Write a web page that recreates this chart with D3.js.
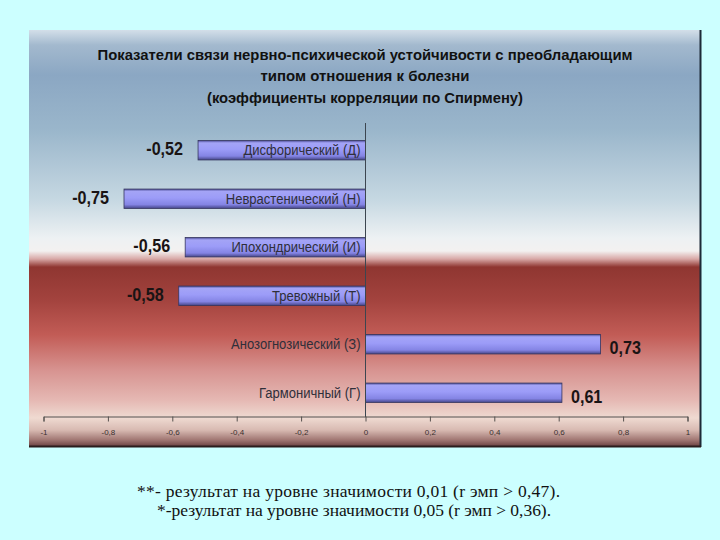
<!DOCTYPE html>
<html><head><meta charset="utf-8">
<script src="https://cdn.jsdelivr.net/npm/d3@7"></script>
<style>
html,body{margin:0;padding:0;background:#ccffff;}
svg{display:block;}
</style></head>
<body>
<svg id="c" width="720" height="540"></svg>
<script>
const titleLines = ["Показатели связи нервно-психической устойчивости с преобладающим",
  "типом отношения к болезни", "(коэффициенты корреляции по Спирмену)"];
const categories = ["Дисфорический (Д)", "Неврастенический (Н)", "Ипохондрический (И)",
  "Тревожный (Т)", "Анозогнозический (З)", "Гармоничный (Г)"];
const values = [-0.52, -0.75, -0.56, -0.58, 0.73, 0.61];
const valueLabels = ["-0,52", "-0,75", "-0,56", "-0,58", "0,73", "0,61"];
const tickValues = [-1, -0.8, -0.6, -0.4, -0.2, 0, 0.2, 0.4, 0.6, 0.8, 1];
const footnotes = ["**-  результат на уровне значимости 0,01 (r эмп > 0,47).",
  "*-результат на уровне значимости 0,05 (r эмп > 0,36)."];

const svg = d3.select("#c");
const defs = svg.append("defs");
const sans = "'Liberation Sans',Arial,sans-serif";

const P = {x:29, y:30, w:671, h:416};
const pg = defs.append("linearGradient").attr("id","panelG").attr("x1",0).attr("y1",0).attr("x2",0).attr("y2",1);
const stops = [[30,"#d3dfe9"],[45,"#a3b9ce"],[75,"#8ba7c3"],[130,"#9ab6cb"],[200,"#c6d8e2"],[238,"#edf1f3"],
  [251,"#f3f1f0"],[259,"#d8a8a6"],[267,"#8f3631"],[300,"#a3433e"],[335,"#c25c56"],[370,"#d79390"],
  [400,"#e5b8b3"],[418,"#efdad1"],[430,"#d8bab2"],[440,"#a07672"],[446,"#6e4444"]];
stops.forEach(s=>pg.append("stop").attr("offset",((s[0]-P.y)/P.h)).attr("stop-color",s[1]));

const bg = defs.append("linearGradient").attr("id","barG").attr("x1",0).attr("y1",0).attr("x2",0).attr("y2",1);
[[0,"#4c4c96"],[0.12,"#a4a4f6"],[0.45,"#9c9cf8"],[0.8,"#8484e4"],[1,"#454588"]]
  .forEach(s=>bg.append("stop").attr("offset",s[0]).attr("stop-color",s[1]));

svg.append("rect").attr("x",P.x).attr("y",P.y).attr("width",P.w).attr("height",P.h).attr("fill","url(#panelG)");
svg.append("line").attr("x1",P.x+P.w+0.5).attr("x2",P.x+P.w+0.5).attr("y1",P.y).attr("y2",P.y+P.h+1)
  .attr("stroke","#1d2b38").attr("stroke-width",2);
svg.append("line").attr("x1",P.x).attr("x2",P.x+P.w+1).attr("y1",P.y+P.h+0.5).attr("y2",P.y+P.h+0.5)
  .attr("stroke","#2a1d1d").attr("stroke-width",2);

function ntext(g, tx, ty, sx, txt){
  return g.append("text").attr("transform",`translate(${tx},${ty}) scale(${sx},1)`).text(txt);
}

const titleY = [60, 81, 103];
const titleW = [535, 209, 316];
titleLines.forEach((t,i)=>{
  svg.append("text").attr("x",365).attr("y",titleY[i]).attr("text-anchor","middle")
    .attr("font-family",sans).attr("font-weight","bold").attr("font-size",15.5).attr("fill","#111")
    .attr("textLength",titleW[i]).attr("lengthAdjust","spacingAndGlyphs").text(t);
});

const x = d3.scaleLinear().domain([-1,1]).range([43.5,687.5]);
const y = d3.scaleBand().domain(categories).range([126,417]).paddingInner(0.6).paddingOuter(0.3);

svg.append("g").selectAll("rect").data(values).join("rect")
  .attr("x",d=>x(Math.min(0,d))).attr("width",d=>Math.abs(x(d)-x(0)))
  .attr("y",(d,i)=>y(categories[i])).attr("height",y.bandwidth())
  .attr("fill","url(#barG)").attr("stroke","#35355e").attr("stroke-width",0.8);

svg.append("line").attr("x1",x(0)).attr("x2",x(0)).attr("y1",123).attr("y2",417)
  .attr("stroke","#3c4650").attr("stroke-width",1);

const cg = svg.append("g").attr("font-family",sans).attr("font-size",14.5).attr("fill","#2f2f3a").attr("text-anchor","end");
categories.forEach(c=>ntext(cg, x(0)-5, y(c)+y.bandwidth()/2+5, 0.9, c));

const vg = svg.append("g").attr("font-family",sans).attr("font-weight","bold").attr("font-size",19).attr("fill","#1a1414");
values.forEach((d,i)=>{
  const cy = y(categories[i])+y.bandwidth()/2;
  ntext(vg, d<0?x(d)-15:x(d)+9, cy+(d<0?5:10), 0.85, valueLabels[i]).attr("text-anchor",d<0?"end":"start");
});

const ax = svg.append("g").attr("transform","translate(0,416.5)")
  .call(d3.axisBottom(x).tickValues(tickValues).tickSize(5).tickPadding(8)
    .tickFormat(d=>(d===0?"0":String(Math.round(d*10)/10)).replace(".",",")));
ax.select(".domain").attr("stroke","#55504e");
ax.selectAll(".tick line").attr("stroke","#55504e");
ax.selectAll(".tick text").attr("font-family",sans).attr("font-size",8).attr("fill","#3a3030");

const fy = [497, 516];
const fx = [348.5, 354];
const fw = [423, 394];
footnotes.forEach((t,i)=>{
  svg.append("text").attr("x",fx[i]).attr("y",fy[i]).attr("text-anchor","middle")
    .attr("font-family","'Liberation Serif','Times New Roman',serif").attr("font-size",17.5).attr("fill","#111")
    .attr("textLength",fw[i]).attr("lengthAdjust","spacing").text(t);
});
</script>
</body></html>
